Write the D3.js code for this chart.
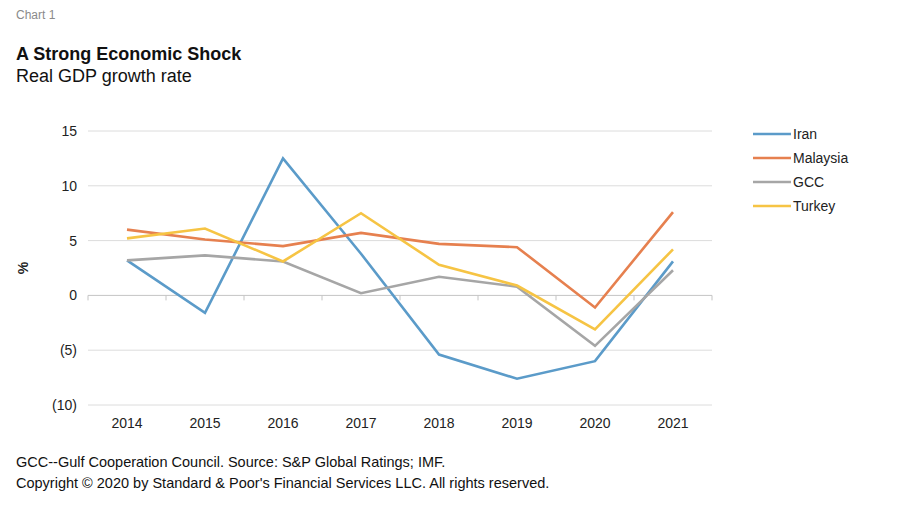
<!DOCTYPE html>
<html>
<head>
<meta charset="utf-8">
<style>
  body { margin: 0; background: #fff; }
  svg { font-family: "Liberation Sans", Arial, sans-serif; }
</style>
</head>
<body>
<div id="chart"></div>
<script src="https://d3js.org/d3.v7.min.js"></script>
<script>
// years on the x axis
const years = ["2014", "2015", "2016", "2017", "2018", "2019", "2020", "2021"];
// real GDP growth, %
const iran     = [3.2, -1.6, 12.5, 3.8, -5.4, -7.6, -6.0, 3.1];
const malaysia = [6.0, 5.1, 4.5, 5.7, 4.7, 4.4, -1.1, 7.6];
const gcc      = [3.2, 3.65, 3.1, 0.2, 1.7, 0.8, -4.6, 2.3];
const turkey   = [5.2, 6.1, 3.1, 7.5, 2.8, 0.9, -3.1, 4.2];
const yTicks = [15, 10, 5, 0, -5, -10];

const series = [
  { name: "Iran", values: iran, color: "#5b9bc9" },
  { name: "Malaysia", values: malaysia, color: "#e6804f" },
  { name: "GCC", values: gcc, color: "#a6a6a6" },
  { name: "Turkey", values: turkey, color: "#f6c444" }
];

const width = 900, height = 507;
const svg = d3.select("#chart").append("svg")
  .attr("width", width)
  .attr("height", height);

// titles
svg.append("text").attr("x", 16).attr("y", 19)
  .attr("font-size", 12).attr("fill", "#8a8a8a").text("Chart 1");
svg.append("text").attr("x", 16).attr("y", 59.5)
  .attr("font-size", 18).attr("font-weight", "bold").attr("fill", "#111")
  .text("A Strong Economic Shock");
svg.append("text").attr("x", 16).attr("y", 82)
  .attr("font-size", 18).attr("fill", "#111").text("Real GDP growth rate");

const x = d3.scaleBand().domain(years).range([88, 712]);
const y = d3.scaleLinear().domain([-10, 15]).range([405, 131]);

// grid lines
svg.append("g")
  .selectAll("line")
  .data(yTicks.filter(d => d !== 0))
  .join("line")
  .attr("x1", 88).attr("x2", 712)
  .attr("y1", d => y(d)).attr("y2", d => y(d))
  .attr("stroke", "#dcdcdc").attr("stroke-width", 1);

// y labels
svg.append("g")
  .selectAll("text")
  .data(yTicks)
  .join("text")
  .attr("x", 77)
  .attr("y", d => y(d) + 5)
  .attr("text-anchor", "end")
  .attr("font-size", 14).attr("fill", "#222")
  .text(d => d < 0 ? "(" + (-d) + ")" : d);

svg.append("text")
  .attr("transform", "translate(28," + y(2.5) + ") rotate(-90)")
  .attr("text-anchor", "middle")
  .attr("font-size", 14).attr("font-weight", "bold").attr("fill", "#222")
  .text("%");

// zero axis with tick marks between categories
const zero = svg.append("g").attr("transform", "translate(0," + y(0) + ")");
zero.append("line").attr("x1", 88).attr("x2", 712)
  .attr("stroke", "#c4c4c4");
zero.selectAll("line.tk")
  .data(years.map(d => x(d)).concat([x.range()[1]]))
  .join("line").attr("class", "tk")
  .attr("x1", d => d).attr("x2", d => d)
  .attr("y1", 0).attr("y2", 5)
  .attr("stroke", "#c4c4c4");

// x labels at bottom
svg.append("g")
  .selectAll("text")
  .data(years)
  .join("text")
  .attr("x", d => x(d) + x.bandwidth() / 2)
  .attr("y", 427.5)
  .attr("text-anchor", "middle")
  .attr("font-size", 14).attr("fill", "#222")
  .text(d => d);

// lines
const line = d3.line()
  .x((d, i) => x(years[i]) + x.bandwidth() / 2)
  .y(d => y(d));

svg.append("g")
  .selectAll("path")
  .data(series)
  .join("path")
  .attr("d", d => line(d.values))
  .attr("fill", "none")
  .attr("stroke", d => d.color)
  .attr("stroke-width", 2.6)
  .attr("stroke-linejoin", "miter");

// legend
const legend = svg.append("g")
  .selectAll("g")
  .data(series)
  .join("g")
  .attr("transform", (d, i) => "translate(753," + (134 + i * 24) + ")");
legend.append("line")
  .attr("x1", 0).attr("x2", 38)
  .attr("stroke", d => d.color).attr("stroke-width", 2.6);
legend.append("text")
  .attr("x", 40).attr("y", 5)
  .attr("font-size", 14).attr("fill", "#222")
  .text(d => d.name);

// footer
svg.append("text").attr("x", 16).attr("y", 466.5)
  .attr("font-size", 14.5).attr("fill", "#111")
  .text("GCC--Gulf Cooperation Council. Source: S&P Global Ratings; IMF.");
svg.append("text").attr("x", 16).attr("y", 487.5)
  .attr("font-size", 14.5).attr("fill", "#111")
  .text("Copyright \u00a9 2020 by Standard & Poor's Financial Services LLC. All rights reserved.");
</script>
</body>
</html>
